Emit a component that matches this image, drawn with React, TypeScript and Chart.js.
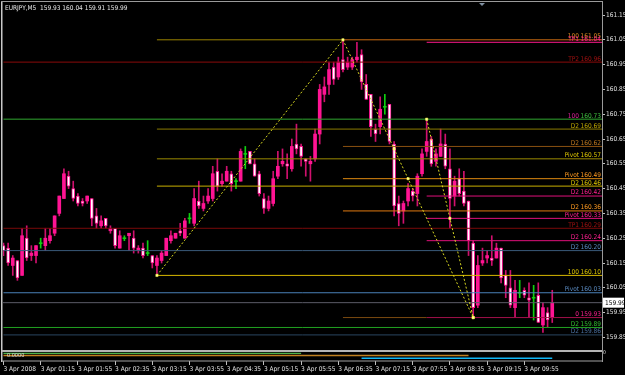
import React, { useEffect, useRef } from "react";
import { Chart, registerables } from "chart.js";
Chart.register(...registerables);

const SYMBOL = "EURJPY,M5";
const FONT = "'Liberation Sans Narrow', 'DejaVu Sans Condensed', 'Liberation Sans', Arial, sans-serif";

// ---- candles (M5, 3 Apr 2008, first bar 00:35) ----
const opens = [
  160.22, 160.21, 160.14, 160.16, 160.10, 160.25, 160.18, 160.18, 160.23, 160.22,
  160.24, 160.27, 160.35, 160.41, 160.50, 160.45, 160.42, 160.40, 160.40, 160.41,
  160.34, 160.30, 160.33, 160.28, 160.29, 160.21, 160.25, 160.26, 160.25, 160.20,
  160.21, 160.19, 160.18, 160.14, 160.16, 160.18, 160.24, 160.25, 160.28, 160.25,
  160.33, 160.31, 160.40, 160.37, 160.40, 160.41, 160.52, 160.47, 160.48, 160.51,
  160.48, 160.48, 160.59, 160.60, 160.55, 160.51, 160.41, 160.37, 160.39, 160.50,
  160.55, 160.55, 160.53, 160.63, 160.62, 160.57, 160.55, 160.57, 160.67, 160.83,
  160.87, 160.94, 160.90, 160.97, 160.94, 160.94, 160.97, 160.99, 160.87, 160.83,
  160.69, 160.70, 160.78, 160.79, 160.63, 160.39, 160.36, 160.40, 160.44, 160.43,
  160.51, 160.60, 160.65, 160.56, 160.58, 160.63, 160.53, 160.42, 160.49, 160.44,
  160.40, 160.23, 159.98, 160.15, 160.17, 160.17, 160.17, 160.21, 160.10, 160.05,
  159.97, 160.03, 160.04, 160.01, 160.01, 160.02, 159.90, 159.95, 159.93,
];
const highs = [
  160.23, 160.23, 160.18, 160.16, 160.29, 160.30, 160.22, 160.22, 160.25, 160.29,
  160.29, 160.34, 160.42, 160.53, 160.52, 160.48, 160.43, 160.41, 160.42, 160.41,
  160.37, 160.34, 160.33, 160.30, 160.29, 160.28, 160.26, 160.27, 160.28, 160.22,
  160.23, 160.24, 160.18, 160.18, 160.20, 160.25, 160.28, 160.27, 160.31, 160.33,
  160.35, 160.45, 160.48, 160.42, 160.45, 160.54, 160.57, 160.51, 160.54, 160.52,
  160.49, 160.61, 160.62, 160.60, 160.57, 160.52, 160.43, 160.42, 160.52, 160.60,
  160.61, 160.59, 160.65, 160.71, 160.63, 160.57, 160.58, 160.69, 160.87, 160.90,
  160.96, 160.96, 160.98, 161.05, 160.98, 160.98, 161.04, 161.01, 160.91, 160.83,
  160.71, 160.82, 160.83, 160.79, 160.64, 160.42, 160.40, 160.47, 160.45, 160.51,
  160.61, 160.73, 160.66, 160.61, 160.69, 160.67, 160.61, 160.50, 160.53, 160.52,
  160.40, 160.24, 160.18, 160.21, 160.20, 160.26, 160.23, 160.21, 160.12, 160.12,
  160.08, 160.08, 160.05, 160.07, 160.06, 160.07, 159.99, 159.97, 160.04,
];
const lows = [
  160.18, 160.14, 160.10, 160.08, 160.10, 160.16, 160.16, 160.15, 160.21, 160.20,
  160.23, 160.26, 160.34, 160.41, 160.45, 160.40, 160.38, 160.38, 160.39, 160.30,
  160.29, 160.29, 160.29, 160.27, 160.21, 160.21, 160.24, 160.20, 160.19, 160.19,
  160.17, 160.18, 160.13, 160.10, 160.15, 160.18, 160.23, 160.25, 160.26, 160.25,
  160.31, 160.30, 160.37, 160.36, 160.39, 160.40, 160.44, 160.46, 160.48, 160.44,
  160.45, 160.48, 160.53, 160.55, 160.50, 160.42, 160.35, 160.36, 160.38, 160.49,
  160.54, 160.49, 160.52, 160.59, 160.54, 160.50, 160.48, 160.56, 160.63, 160.80,
  160.83, 160.87, 160.89, 160.92, 160.93, 160.93, 160.96, 160.85, 160.81, 160.66,
  160.64, 160.67, 160.75, 160.63, 160.34, 160.30, 160.31, 160.38, 160.40, 160.38,
  160.50, 160.58, 160.54, 160.54, 160.58, 160.53, 160.29, 160.38, 160.42, 160.38,
  160.18, 159.93, 159.97, 160.14, 160.15, 160.14, 160.17, 160.07, 160.01, 159.97,
  159.93, 160.01, 160.01, 159.93, 159.92, 159.91, 159.87, 159.89, 159.91,
];
const closes = [
  160.20, 160.15, 160.17, 160.09, 160.26, 160.17, 160.19, 160.22, 160.23, 160.25,
  160.26, 160.34, 160.42, 160.51, 160.46, 160.41, 160.39, 160.39, 160.42, 160.33,
  160.31, 160.32, 160.30, 160.29, 160.22, 160.26, 160.25, 160.27, 160.21, 160.21,
  160.18, 160.19, 160.15, 160.17, 160.19, 160.25, 160.26, 160.27, 160.27, 160.32,
  160.33, 160.41, 160.38, 160.39, 160.42, 160.51, 160.46, 160.48, 160.52, 160.47,
  160.48, 160.60, 160.59, 160.55, 160.50, 160.43, 160.37, 160.40, 160.49, 160.54,
  160.56, 160.54, 160.62, 160.61, 160.58, 160.56, 160.56, 160.67, 160.85, 160.86,
  160.93, 160.89, 160.96, 160.93, 160.96, 160.97, 160.98, 160.88, 160.81, 160.70,
  160.67, 160.77, 160.78, 160.64, 160.38, 160.35, 160.39, 160.45, 160.42, 160.50,
  160.59, 160.64, 160.55, 160.59, 160.63, 160.54, 160.41, 160.48, 160.43, 160.39,
  160.24, 159.97, 160.14, 160.16, 160.18, 160.16, 160.21, 160.09, 160.06, 159.98,
  160.04, 160.03, 160.02, 160.00, 160.01, 159.91, 159.97, 159.92, 159.99,
];

// ---- x axis ----
const X_MIN = -0.1;
const X_MAX = 128.7;
const tickBars = [0, 8, 16, 24, 32, 40, 48, 56, 64, 72, 80, 88, 96, 104, 112];
const tickLabels = [
  "3 Apr 2008", "3 Apr 01:15", "3 Apr 01:55", "3 Apr 02:35", "3 Apr 03:15",
  "3 Apr 03:55", "3 Apr 04:35", "3 Apr 05:15", "3 Apr 05:55", "3 Apr 06:35",
  "3 Apr 07:15", "3 Apr 07:55", "3 Apr 08:35", "3 Apr 09:15", "3 Apr 09:55",
];

// ---- price axis ----
const Y_MIN = 159.7992;
const Y_MAX = 161.1984;
const yTicks = [159.85, 159.95, 160.05, 160.15, 160.25, 160.35, 160.45, 160.55, 160.65, 160.75, 160.85, 160.95, 161.05, 161.15];

// ---- horizontal levels (fibo / pivot objects) ----
const levelValues = [161.05, 161.04, 160.96, 160.73, 160.69, 160.62, 160.57, 160.49, 160.46, 160.42, 160.36, 160.33, 160.29, 160.24, 160.20, 160.10, 160.03, 159.93, 159.89, 159.86];
const levelNames = ["100", "TP1", "TP2", "100", "D2", "D2", "Pivot", "Pivot", "D2", "D2", "D2", "Pivot", "TP1", "D2", "D2", "100", "Pivot", "0", "D2", "D2"];
const levelStartBars = [73, 91, 0, 0, 33, 73, 33, 73, 33, 91, 73, 91, 0, 91, 0, 33, 0, 91, 0, 0];
const levelLineColors = ["#c86a10", "#ff1a8c", "#8a0a0a", "#2fa82f", "#8a7a00", "#8a5010", "#9a8a00", "#e08a10", "#c8b000", "#e0107a", "#e07a10", "#e0107a", "#7a0a0a", "#e0107a", "#3a5a7a", "#d8b800", "#4a80b8", "#a0104a", "#20a020", "#2a4660"];
const levelNameColors = ["#e08a20", "#ff2090", "#a01010", "#e0209a", "#c0a800", "#c07a20", "#e0c800", "#ff9a20", "#e0c800", "#ff2090", "#ff9a20", "#ff2090", "#a01010", "#ff2090", "#5a8ac0", "#e0c800", "#5a8ac0", "#ff2090", "#30c030", "#4a70a0"];
const levelValueColors = ["#e08a20", "#ff2090", "#a01010", "#40c040", "#c0a800", "#c07a20", "#e0c800", "#ff9a20", "#e0c800", "#ff2090", "#ff9a20", "#ff2090", "#a01010", "#ff2090", "#5a8ac0", "#e0c800", "#5a8ac0", "#ff2090", "#30c030", "#4a70a0"];
// partial segments of the fibo tools
const segValues = [161.05, 159.93];
const segStartBars = [33, 73];
const segEndBars = [73, 91];
const segColors = ["#9a8200", "#7a4a10"];

// ---- zigzag (dotted) ----
const zigABars = [33, 73, 84, 87, 101];
const zigAValues = [160.10, 161.05, 160.61, 160.49, 159.93];
const zigBBars = [91, 96, 101];
const zigBValues = [160.73, 160.33, 159.93];

// ---- indicator sub-window ----
const indValues = [0.4, 0, -0.5];
const indStartBars = [0, 0, 77];
const indEndBars = [64, 100, 118];
const indColors = ["#60e060", "#c08020", "#10b8f8"];
const indWidths = [1, 1.5, 1.5];

const zeroPad = (axis: any) => {
  axis.paddingLeft = 0;
  axis.paddingRight = 0;
  axis.paddingTop = 0;
  axis.paddingBottom = 0;
};

const App = () => {
  const ref = useRef<HTMLCanvasElement>(null);

  useEffect(() => {
    document.body.style.margin = "0";
    document.body.style.background = "#000";
    const canvas = ref.current!;
    const idx = opens.map((_, i) => i);
    const kind = idx.map((i) => (closes[i] > opens[i] ? "up" : closes[i] < opens[i] ? "down" : "doji"));
    const PINK = "#ff1493";
    const GREEN = "#10d010";

    const bodyData = idx.map((i) =>
      kind[i] === "doji"
        ? { x: i, y: [closes[i] - 0.002, closes[i] + 0.002] }
        : { x: i, y: [Math.min(opens[i], closes[i]), Math.max(opens[i], closes[i])] }
    );
    const wickData = idx.map((i) => ({ x: i, y: [lows[i], highs[i]] }));

    const levelSets: any[] = levelValues.map((v, k) => ({
      type: "line",
      data: [{ x: levelStartBars[k], y: v }, { x: X_MAX, y: v }],
      borderColor: levelLineColors[k],
      borderWidth: 1,
      pointRadius: 0,
      yAxisID: "y",
      order: 1,
    }));
    const segSets: any[] = segValues.map((v, k) => ({
      type: "line",
      data: [{ x: segStartBars[k], y: v }, { x: segEndBars[k], y: v }],
      borderColor: segColors[k],
      borderWidth: 1,
      pointRadius: 0,
      yAxisID: "y",
      order: 1,
    }));
    const last = closes[closes.length - 1];
    const bidSet = {
      type: "line",
      data: [{ x: X_MIN, y: last }, { x: X_MAX, y: last }],
      borderColor: "#5c5c68",
      borderWidth: 1,
      pointRadius: 0,
      yAxisID: "y",
      order: 2,
    };
    const zigStyle = {
      type: "line",
      borderColor: "#d8d820",
      borderWidth: 1,
      borderDash: [2, 2],
      pointStyle: "rect",
      pointRadius: 1.6,
      pointBackgroundColor: "#ffffa0",
      pointBorderColor: "#ffff40",
      pointBorderWidth: 0.5,
      yAxisID: "y",
      order: 0,
    };
    const zigA = { ...zigStyle, data: zigABars.map((b, k) => ({ x: b, y: zigAValues[k] })) };
    const zigB = { ...zigStyle, data: zigBBars.map((b, k) => ({ x: b, y: zigBValues[k] })) };

    const indSets: any[] = indValues.map((v, k) => ({
      type: "line",
      data: [{ x: indStartBars[k], y: v }, { x: indEndBars[k], y: v }],
      borderColor: indColors[k],
      borderWidth: indWidths[k],
      pointRadius: 0,
      yAxisID: "yi",
      order: 1,
    }));

    const bodies = {
      type: "bar",
      data: bodyData,
      grouped: false,
      barThickness: 3,
      borderSkipped: false,
      borderWidth: idx.map((i) => (kind[i] === "down" ? 1 : 0)),
      borderColor: idx.map((i) => (kind[i] === "doji" ? GREEN : PINK)),
      backgroundColor: idx.map((i) => (kind[i] === "doji" ? GREEN : kind[i] === "up" ? PINK : "#ffffff")),
      yAxisID: "y",
      order: 5,
    };
    const wicks = {
      type: "bar",
      data: wickData,
      grouped: false,
      barThickness: 1,
      borderWidth: 0,
      borderSkipped: false,
      backgroundColor: idx.map((i) => (kind[i] === "doji" ? GREEN : "#d0106e")),
      yAxisID: "y",
      order: 6,
    };

    const deco = {
      id: "deco",
      beforeDraw(chart: any) {
        const { ctx, width, height } = chart;
        ctx.save();
        ctx.fillStyle = "#000";
        ctx.fillRect(0, 0, width, height);
        ctx.restore();
      },
      afterDatasetsDraw(chart: any) {
        const { ctx, chartArea } = chart;
        const y = chart.scales.y;
        const yi = chart.scales.yi;
        ctx.save();
        ctx.font = `6.5px ${FONT}`;
        ctx.textBaseline = "bottom";
        levelValues.forEach((v, k) => {
          const py = y.getPixelForValue(v);
          ctx.textAlign = "right";
          ctx.fillStyle = levelNameColors[k];
          ctx.fillText(levelNames[k], chartArea.right - 23, py);
          ctx.fillStyle = levelValueColors[k];
          ctx.fillText(v.toFixed(2), chartArea.right - 1, py);
        });
        // header
        const n = closes.length - 1;
        ctx.textAlign = "left";
        ctx.textBaseline = "middle";
        ctx.fillStyle = "#e8e8e8";
        ctx.font = `6.5px ${FONT}`;
        ctx.fillText(
          `${SYMBOL}  ${opens[n].toFixed(2)} ${highs[n].toFixed(2)} ${lows[n].toFixed(2)} ${closes[n].toFixed(2)}`,
          5,
          8
        );
        // frame
        ctx.fillStyle = "#c8c8c8";
        ctx.fillRect(1, 1, 1.5, 361);
        ctx.fillStyle = "#9a9a9a";
        ctx.fillRect(1, 1, chartArea.right, 1);
        ctx.fillRect(chartArea.right, 1, 1, 361);
        ctx.fillStyle = "#b4b4b4";
        ctx.fillRect(2, yi.top, chartArea.right - 2, 2);
        ctx.fillStyle = "#a0a0a0";
        ctx.fillRect(2, chartArea.bottom - 0.5, chartArea.right - 2, 1);
        // sub-window caption
        ctx.fillStyle = "#e0e0e0";
        ctx.font = `5.5px ${FONT}`;
        ctx.textBaseline = "middle";
        ctx.fillText("0.0000", 7, yi.top + 6);
        // shift marker
        ctx.fillStyle = "#7f8fa0";
        ctx.beginPath();
        ctx.moveTo(479, 3);
        ctx.lineTo(485, 3);
        ctx.lineTo(482, 6);
        ctx.closePath();
        ctx.fill();
        // bid price box
        const py = y.getPixelForValue(last);
        ctx.fillStyle = "#ffffff";
        ctx.fillRect(chartArea.right + 1, py - 5, 21, 10);
        ctx.fillStyle = "#000";
        ctx.font = `6.5px ${FONT}`;
        ctx.textAlign = "left";
        ctx.fillText(last.toFixed(2), chartArea.right + 3, py + 0.5);
        ctx.restore();
      },
    };

    const tickFont = { family: FONT, size: 6.5 };
    const chart = new Chart(canvas, {
      type: "bar",
      data: {
        datasets: [zigA, zigB, ...segSets, ...levelSets, bidSet, ...indSets, bodies, wicks] as any,
      },
      options: {
        responsive: false,
        animation: false,
        devicePixelRatio: 1,
        events: [],
        layout: { autoPadding: false, padding: { left: 3, top: 3, right: 0, bottom: 0 } },
        plugins: { legend: { display: false }, tooltip: { enabled: false } },
        scales: {
          x: {
            type: "linear",
            offset: false,
            min: X_MIN,
            max: X_MAX,
            afterBuildTicks: (axis: any) => {
              axis.ticks = tickBars.map((v) => ({ value: v }));
            },
            afterFit: (axis: any) => {
              axis.height = 14;
              zeroPad(axis);
            },
            ticks: {
              autoSkip: false,
              maxRotation: 0,
              align: "start",
              padding: 0,
              color: "#e0e0e0",
              font: tickFont,
              callback: (v: any) => tickLabels[tickBars.indexOf(v)] ?? "",
            },
            grid: { offset: false, drawOnChartArea: false, drawTicks: true, tickLength: 4, color: "#c0c0c0" },
            border: { display: false },
          },
          y: {
            type: "linear",
            position: "right",
            stack: "p",
            stackWeight: 347,
            min: Y_MIN,
            max: Y_MAX,
            afterBuildTicks: (axis: any) => {
              axis.ticks = yTicks.map((v) => ({ value: v }));
            },
            afterFit: (axis: any) => {
              axis.width = 23;
              zeroPad(axis);
            },
            ticks: {
              color: "#e0e0e0",
              font: tickFont,
              padding: 1,
              callback: (v: any) => Number(v).toFixed(2),
            },
            grid: { drawOnChartArea: false, drawTicks: true, tickLength: 3, color: "#c0c0c0" },
            border: { display: false },
          },
          yi: {
            type: "linear",
            position: "right",
            stack: "p",
            stackWeight: 11,
            min: -1,
            max: 1,
            afterBuildTicks: (axis: any) => {
              axis.ticks = [{ value: 0.5 }, { value: -0.5 }];
            },
            afterFit: (axis: any) => {
              axis.width = 23;
              zeroPad(axis);
            },
            ticks: {
              color: "#e0e0e0",
              font: { family: FONT, size: 5 },
              padding: 1,
              callback: () => "0",
            },
            grid: { drawOnChartArea: false, drawTicks: false },
            border: { display: false },
          },
        },
      } as any,
      plugins: [deco],
    });
    return () => chart.destroy();
  }, []);

  return <canvas ref={ref} width={625} height={375} style={{ display: "block" }} />;
};

export default App;
